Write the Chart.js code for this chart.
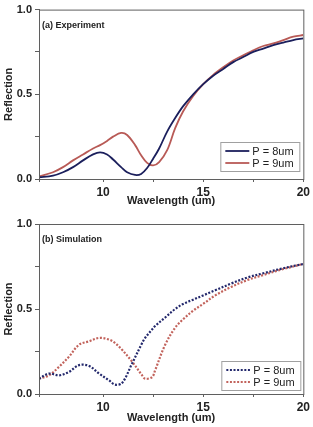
<!DOCTYPE html>
<html>
<head>
<meta charset="utf-8">
<script src="https://cdn.jsdelivr.net/npm/chart.js@4.4.0/dist/chart.umd.min.js"></script>
<style>
  html, body { margin: 0; padding: 0; background: #fff; }
  .panel { position: relative; width: 313px; }
  canvas { display: block; }
</style>
</head>
<body>
<div class="panel" style="height:210px"><canvas id="expChart" width="313" height="210"></canvas></div>
<div class="panel" style="height:217px"><canvas id="simChart" width="313" height="217"></canvas></div>
<script>
const seriesLabels = ['P = 8um', 'P = 9um'];

// (a) Experiment
const expWavelength = [6.8, 7.5, 8, 8.5, 9, 9.5, 9.85, 10.2, 10.5, 10.9, 11.2, 11.6, 11.9, 12.2, 12.5, 12.8, 13.2, 13.6, 14, 14.5, 15, 15.5, 16, 16.5, 17, 17.5, 18, 18.5, 19, 19.5, 20];
const expP8 = [0.01, 0.02, 0.04, 0.07, 0.11, 0.145, 0.157, 0.145, 0.115, 0.07, 0.04, 0.024, 0.03, 0.065, 0.12, 0.18, 0.28, 0.36, 0.43, 0.5, 0.56, 0.61, 0.65, 0.69, 0.72, 0.75, 0.77, 0.79, 0.805, 0.82, 0.83];
const expP9 = [0.015, 0.04, 0.07, 0.11, 0.145, 0.18, 0.2, 0.225, 0.25, 0.272, 0.26, 0.2, 0.14, 0.095, 0.08, 0.1, 0.17, 0.3, 0.4, 0.49, 0.56, 0.615, 0.66, 0.7, 0.73, 0.76, 0.785, 0.8, 0.82, 0.84, 0.85];

// (b) Simulation
const simWavelength = [6.8, 7.3, 7.8, 8.3, 8.8, 9.3, 9.8, 10.3, 10.6, 10.95, 11.45, 11.95, 12.1, 12.45, 12.6, 13.1, 13.6, 14, 14.5, 15, 15.6, 16.4, 17.2, 18, 19, 20];
const simP8 = [0.09, 0.12, 0.11, 0.13, 0.17, 0.165, 0.12, 0.08, 0.055, 0.065, 0.18, 0.3, 0.33, 0.38, 0.4, 0.45, 0.5, 0.53, 0.555, 0.58, 0.61, 0.65, 0.685, 0.71, 0.74, 0.765];
const simP9 = [0.09, 0.11, 0.16, 0.22, 0.29, 0.31, 0.33, 0.32, 0.3, 0.26, 0.19, 0.11, 0.09, 0.1, 0.14, 0.29, 0.39, 0.44, 0.49, 0.53, 0.58, 0.63, 0.67, 0.7, 0.735, 0.765];

const xTickLabels = [10, 15, 20];
const yTickLabels = [0, 0.5, 1];

const FONT = '"Liberation Sans", Arial, sans-serif';
const frameColor = '#5f5f5f';

function toPoints(xs, ys) {
  return xs.map((x, i) => ({ x: x, y: ys[i] }));
}

// frame around the plot area + panel label + inset legend
const framePlugin = {
  id: 'frame',
  afterDraw(chart, args, opts) {
    const ctx = chart.ctx;
    const a = chart.chartArea;
    ctx.save();
    ctx.strokeStyle = frameColor;
    ctx.lineWidth = 1;
    ctx.strokeRect(a.left + 0.5, a.top + 0.5, a.right - a.left, a.bottom - a.top);

    ctx.fillStyle = '#222';
    ctx.font = 'bold 9px ' + FONT;
    ctx.textBaseline = 'middle';
    ctx.textAlign = 'left';
    ctx.fillText(opts.panel, a.left + 3, a.top + opts.panelDy);

    // legend box
    const bx = a.right - opts.boxRight - 79;
    const by = a.bottom - opts.boxBottom - 29;
    ctx.fillStyle = '#fff';
    ctx.fillRect(bx, by, 79, 29);
    ctx.strokeStyle = '#a0a0a0';
    ctx.strokeRect(bx + 0.5, by + 0.5, 79, 29);
    chart.data.datasets.forEach((ds, i) => {
      const y = by + 9 + i * 12;
      ctx.strokeStyle = ds.borderColor;
      ctx.lineWidth = ds.borderWidth;
      ctx.setLineDash(ds.borderDash || []);
      ctx.beginPath();
      ctx.moveTo(bx + 5, y);
      ctx.lineTo(bx + 29, y);
      ctx.stroke();
      ctx.setLineDash([]);
      ctx.fillStyle = '#222';
      ctx.font = '11px ' + FONT;
      ctx.fillText(ds.label, bx + 32, y + 0.5);
    });
    ctx.restore();
  }
};

function makeChart(id, xs, s8, s9, dashed, panel, topPad, legendPos) {
  const colors = dashed ? ['#23286c', '#c2635c'] : ['#1b1f5c', '#b85a56'];
  return new Chart(document.getElementById(id), {
    type: 'line',
    data: {
      datasets: [s8, s9].map((s, i) => ({
        label: seriesLabels[i],
        data: toPoints(xs, s),
        borderColor: colors[i],
        borderWidth: dashed ? 2.2 : 1.8,
        borderDash: dashed ? [2, 1.6] : [],
        pointRadius: 0,
        tension: 0.35,
        fill: false
      }))
    },
    options: {
      responsive: false,
      animation: false,
      layout: { padding: { top: topPad, right: 7, left: 0, bottom: 0 } },
      plugins: {
        legend: { display: false },
        tooltip: { enabled: false },
        frame: { panel: panel, panelDy: 16, boxRight: legendPos[0], boxBottom: legendPos[1] }
      },
      scales: {
        x: {
          type: 'linear',
          min: 6.8,
          max: 20,
          afterFit: s => { s.height = 31 + (topPad === 14 ? 2 : 0); },
          border: { color: frameColor, width: 1 },
          grid: { drawOnChartArea: false, tickLength: 3, color: frameColor },
          ticks: {
            stepSize: 2.5,
            autoSkip: false,
            maxRotation: 0,
            padding: 3,
            color: '#222',
            font: { family: FONT, size: 12, weight: 'bold' },
            callback: v => xTickLabels.includes(v) ? String(v) : ''
          },
          title: {
            display: true,
            text: 'Wavelength (um)',
            color: '#222',
            padding: { top: 0, bottom: 2 },
            font: { family: FONT, size: 11, weight: 'bold' }
          }
        },
        y: {
          min: 0,
          max: 1,
          afterFit: s => { s.width = 39; },
          border: { color: frameColor, width: 1 },
          grid: { drawOnChartArea: false, tickLength: 4, color: frameColor },
          ticks: {
            stepSize: 0.25,
            padding: 3,
            color: '#222',
            font: { family: FONT, size: 11, weight: 'bold' },
            callback: v => yTickLabels.includes(v) ? v.toFixed(1) : ''
          },
          title: {
            display: true,
            text: 'Reflection',
            color: '#222',
            padding: { top: 2, bottom: 0 },
            font: { family: FONT, size: 11, weight: 'bold' }
          }
        }
      }
    },
    plugins: [framePlugin]
  });
}

makeChart('expChart', expWavelength, expP8, expP9, false, '(a) Experiment', 8, [4, 8]);
makeChart('simChart', simWavelength, simP8, simP9, true, '(b) Simulation', 14, [3, 4]);
</script>
</body>
</html>
